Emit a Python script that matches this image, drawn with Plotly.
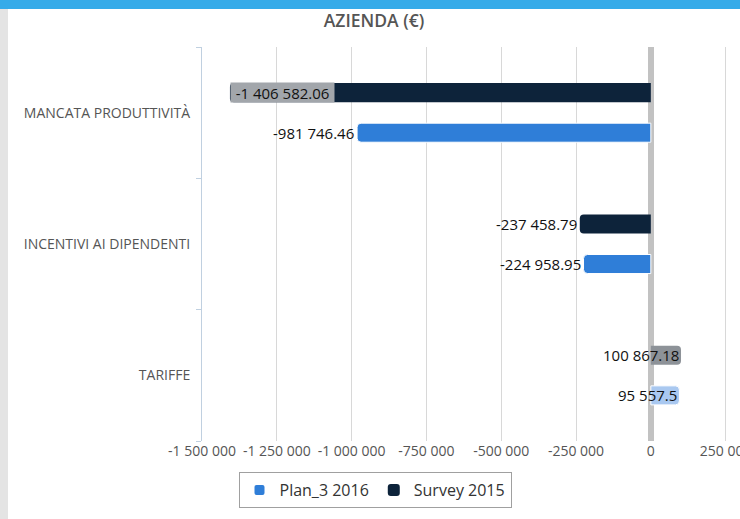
import plotly.graph_objects as go

categories = ["MANCATA PRODUTTIVITÀ", "INCENTIVI AI DIPENDENTI", "TARIFFE"]
plan_2016 = [-981746.46, -224958.95, 95557.5]
survey_2015 = [-1406582.06, -237458.79, 100867.18]
tick_vals = [-1500000, -1250000, -1000000, -750000, -500000, -250000, 0, 250000]
tick_text = ["-1 500 000", "-1 250 000", "-1 000 000", "-750 000", "-500 000", "-250 000", "0", "250 000"]

PLAN_COL, PLAN_POS = "#2f7ed8", "#a9c8f0"
SURV_COL, SURV_POS = "#0d233a", "#8d9298"
X_MIN, X_MAX = -1500000, 298000

W, H = 740, 519
ML, MR, MT, MB = 202, 0, 47, 78
PW, PH = W - ML - MR, H - MT - MB


def fmt(v):
    return f"{v:,}".replace(",", " ")


fig = go.Figure()
fig.add_trace(go.Bar(
    y=categories, x=plan_2016, orientation="h", name="Plan_3 2016",
    marker=dict(color=[PLAN_COL if v < 0 else PLAN_POS for v in plan_2016],
                line=dict(color="white", width=1)),
))
fig.add_trace(go.Bar(
    y=categories, x=survey_2015, orientation="h", name="Survey 2015",
    marker=dict(color=[SURV_COL if v < 0 else SURV_POS for v in survey_2015],
                line=dict(color="white", width=0)),
))

annotations = []
for vals, shift in [(plan_2016, -20), (survey_2015, 20)]:
    for cat, v in zip(categories, vals):
        inside = v < X_MIN + 0.2 * (X_MAX - X_MIN)
        ann = dict(x=v, y=cat, xref="x", yref="y", text=fmt(v), showarrow=False,
                   yshift=shift, font=dict(family="Open Sans", size=15, color="#111"))
        if inside:
            ann.update(xanchor="left", xshift=0, bgcolor="#a2a6ab", borderpad=0,
                       height=19, width=103, align="center")
        elif v < 0:
            ann.update(xanchor="right", xshift=-1)
        else:
            ann.update(xanchor="right", xshift=0)
        annotations.append(ann)

fig.update_layout(
    width=W, height=H,
    margin=dict(l=ML, r=MR, t=MT, b=MB, autoexpand=False),
    paper_bgcolor="white", plot_bgcolor="white",
    barmode="group", bargap=0.39, bargroupgap=0.525, barcornerradius=4,
    title=dict(text="AZIENDA (€)", x=(374 - ML) / PW, xref="paper", xanchor="center",
               y=1 - 21 / H, yanchor="middle",
               font=dict(family="Open Sans", size=17.5, color="#555", weight=600)),
    showlegend=True,
    legend=dict(orientation="h", x=(375 - ML) / PW, xanchor="center",
                y=-(472 - (MT + PH)) / PH, yanchor="top",
                bordercolor="#a0a0a0", borderwidth=1, bgcolor="white",
                font=dict(family="Open Sans", size=16, color="#333"),
                itemsizing="constant", tracegroupgap=0),
    annotations=annotations,
    shapes=[
        # top blue band
        dict(type="rect", xref="paper", yref="paper",
             x0=-ML / PW, x1=1.05, y0=1 + (MT - 9) / PH, y1=1 + MT / PH + 0.02,
             fillcolor="#35abe9", line=dict(width=0), layer="above"),
        # left grey strip
        dict(type="rect", xref="paper", yref="paper",
             x0=-ML / PW - 0.01, x1=-(ML - 8) / PW, y0=-MB / PH - 0.02, y1=1 + (MT - 9) / PH,
             fillcolor="#e4e4e4", line=dict(width=0), layer="below"),
    ],
)

fig.update_xaxes(
    range=[X_MIN, X_MAX], tickvals=tick_vals, ticktext=tick_text,
    showgrid=True, gridcolor="#d8d8d8", gridwidth=1,
    zeroline=True, zerolinecolor="#c2c2c2", zerolinewidth=6,
    showline=False, ticks="", ticklabeloverflow="allow",
    tickfont=dict(family="Open Sans", size=14, color="#555"),
)
fig.update_yaxes(
    categoryorder="array", categoryarray=categories[::-1],
    showline=True, linecolor="#c0d0e0", linewidth=1,
    ticks="outside", tickson="boundaries", ticklen=5, tickcolor="#c0d0e0",
    showgrid=False, zeroline=False, ticklabelstandoff=8,
    tickfont=dict(family="Open Sans", size=14, color="#555"),
)

fig.write_html("out.html", config={"displayModeBar": False},
               post_script="document.body.style.margin='0';document.body.style.padding='0';")
